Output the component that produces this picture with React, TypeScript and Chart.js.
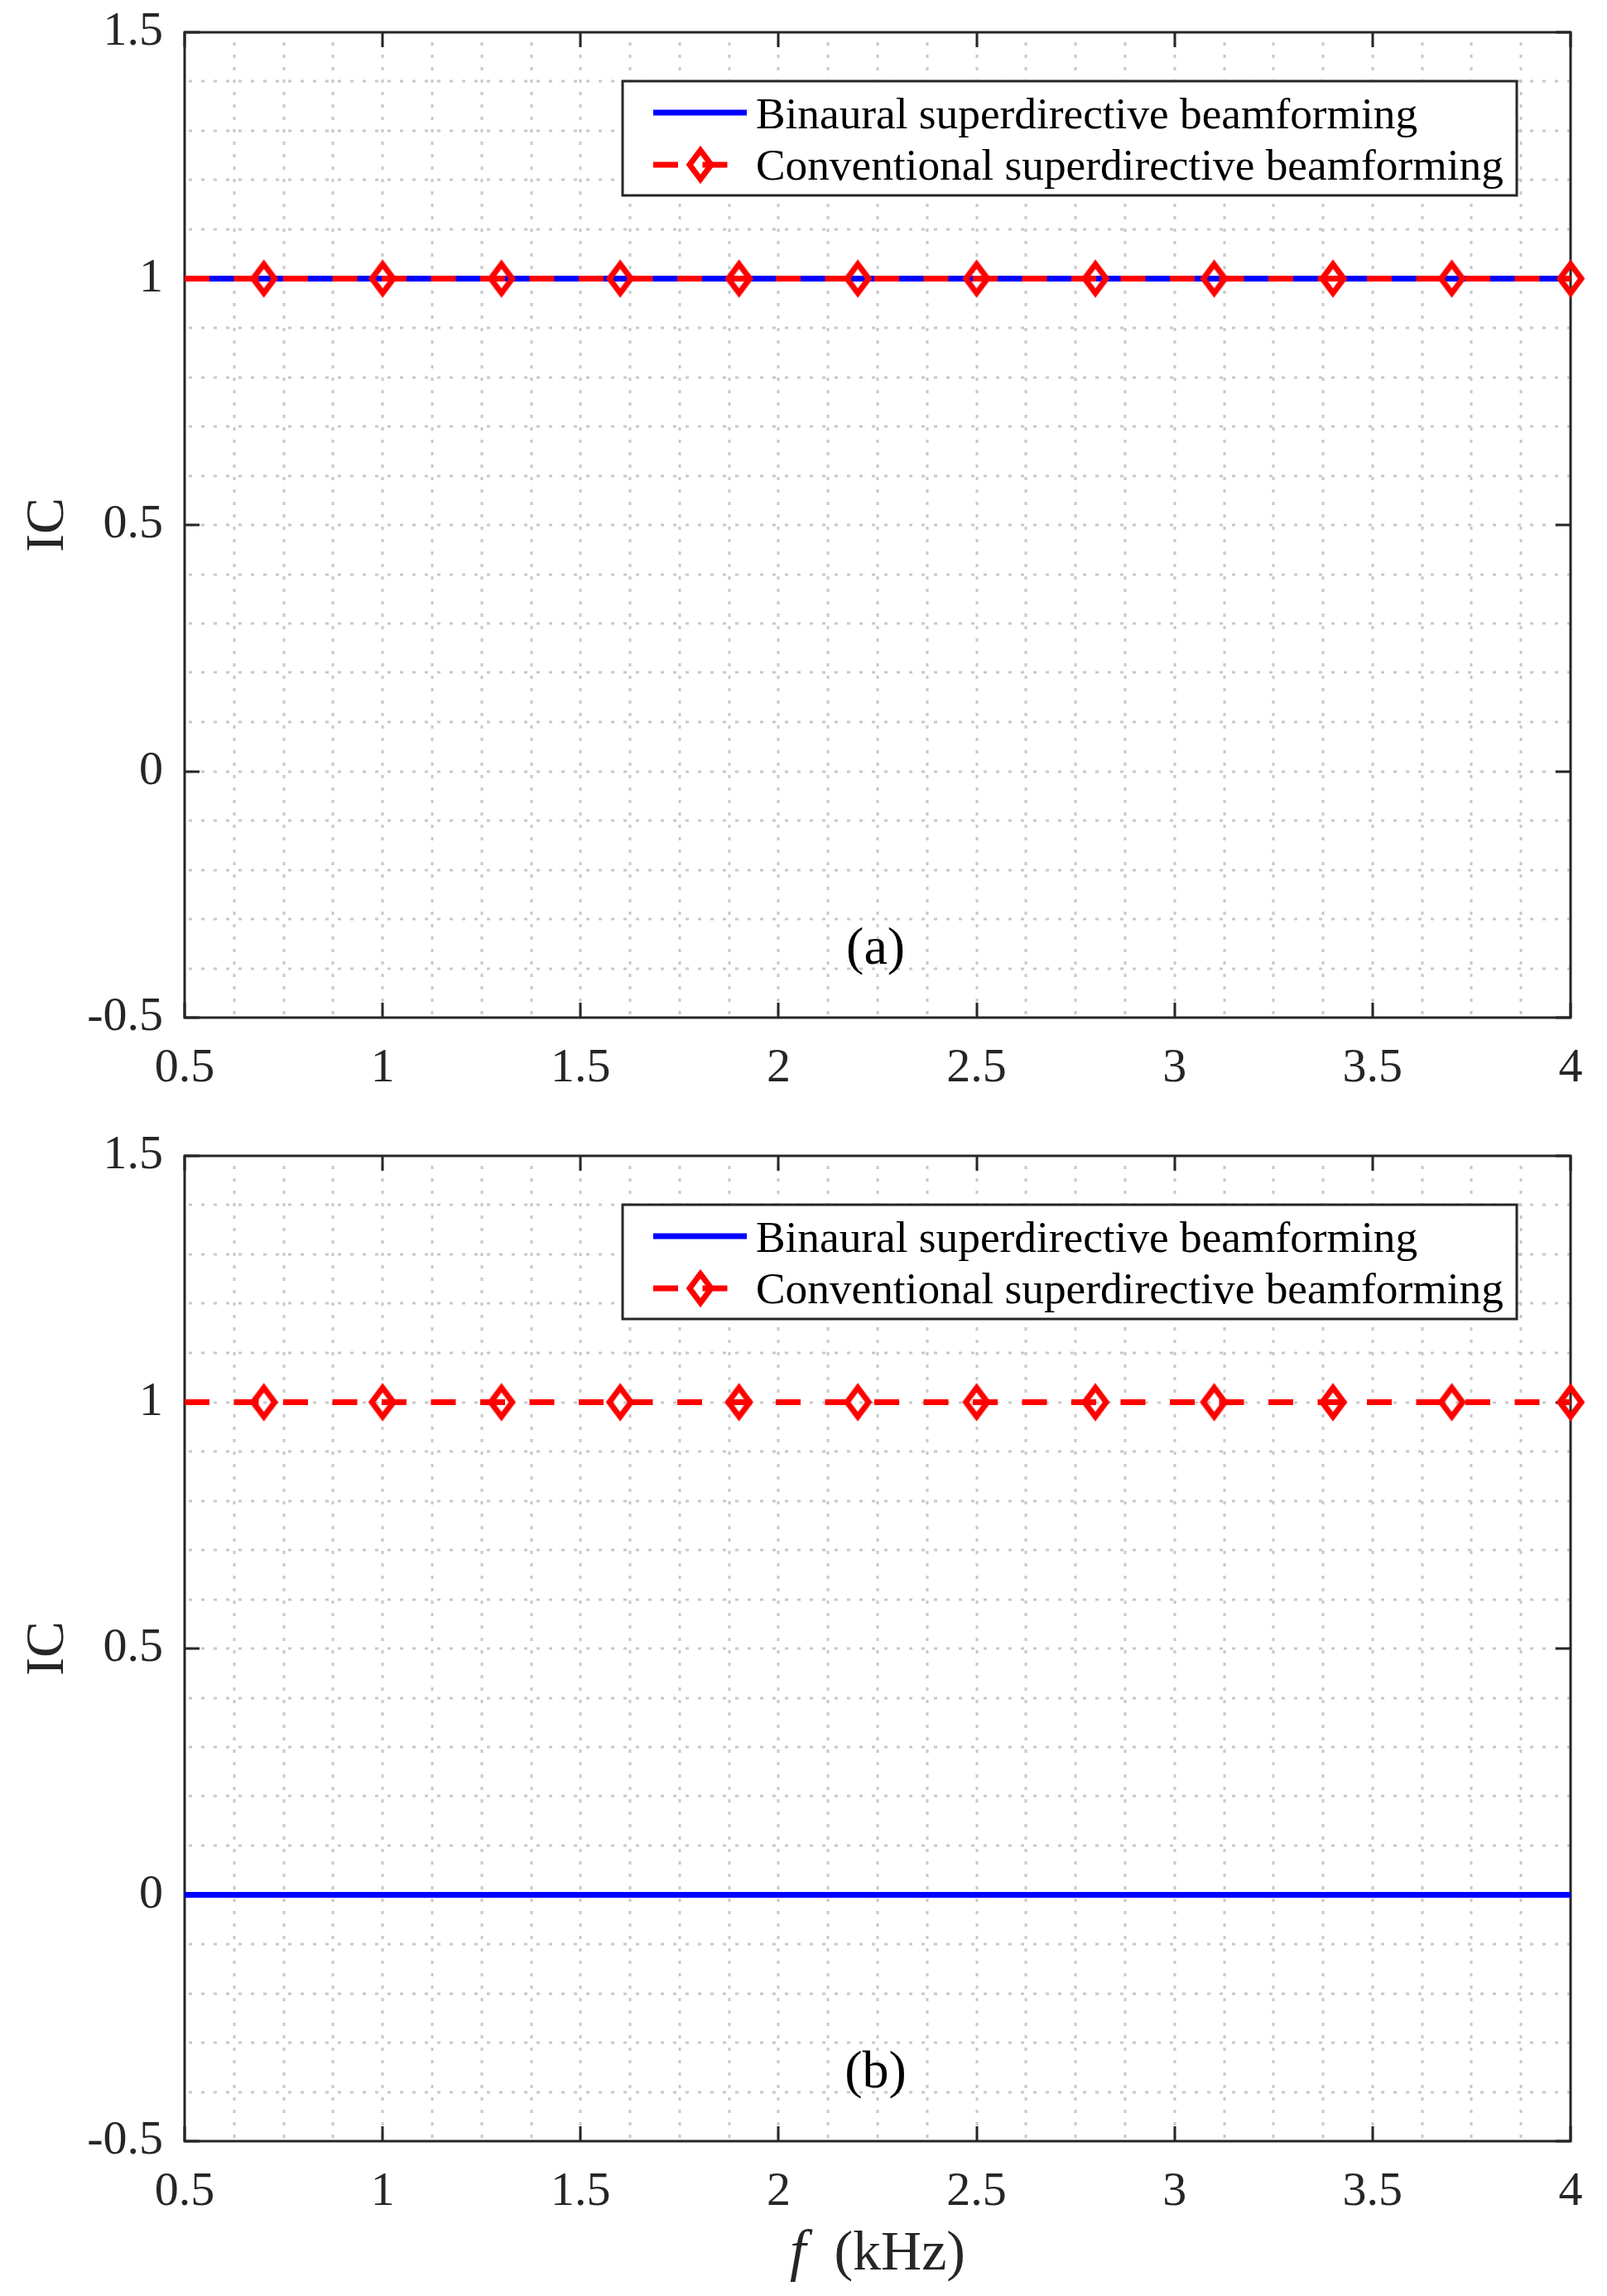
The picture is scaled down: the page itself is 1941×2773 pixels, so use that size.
import React, { useEffect, useRef } from "react";
import { Chart, registerables } from "chart.js";

Chart.register(...registerables);

// ---------------- data ----------------
const freqKHz = [0.5, 0.7, 1.0, 1.3, 1.6, 1.9, 2.2, 2.5, 2.8, 3.1, 3.4, 3.7, 4.0];
const markerFreqs = [0.7, 1.0, 1.3, 1.6, 1.9, 2.2, 2.5, 2.8, 3.1, 3.4, 3.7, 4.0];
const binauralA = [1, 1, 1, 1, 1, 1, 1, 1, 1, 1, 1, 1, 1];
const conventionalA = [1, 1, 1, 1, 1, 1, 1, 1, 1, 1, 1, 1, 1];
const binauralB = [0, 0, 0, 0, 0, 0, 0, 0, 0, 0, 0, 0, 0];
const conventionalB = [1, 1, 1, 1, 1, 1, 1, 1, 1, 1, 1, 1, 1];
const xTickLabels = ["0.5", "1", "1.5", "2", "2.5", "3", "3.5", "4"];
const yTickLabels = ["-0.5", "0", "0.5", "1", "1.5"];
const seriesNames = [
  "Binaural superdirective beamforming",
  "Conventional superdirective beamforming",
];
const panelLabels = ["(a)", "(b)"];
const yAxisTitle = "IC";
const xAxisTitleVar = "f";
const xAxisTitleUnit = "(kHz)";

// ---------------- styling helpers ----------------
const AXIS_COLOR = "#262626";
const GRID_COLOR = "#c8c8c8";
const SERIF = "'Liberation Serif', 'Times New Roman', serif";

let diamondCache: HTMLCanvasElement | null = null;
function diamond(): HTMLCanvasElement {
  if (diamondCache) return diamondCache;
  const c = document.createElement("canvas");
  c.width = 40;
  c.height = 54;
  const g = c.getContext("2d")!;
  g.strokeStyle = "#ff0000";
  g.lineWidth = 7;
  g.lineJoin = "miter";
  g.beginPath();
  g.moveTo(20, 27 - 17.5);
  g.lineTo(20 + 13, 27);
  g.lineTo(20, 27 + 17.5);
  g.lineTo(20 - 13, 27);
  g.closePath();
  g.stroke();
  diamondCache = c;
  return c;
}

function makeFramePlugin(panelLabel: string, showXTitle: boolean) {
  return {
    id: "matlabFrame",
    beforeDatasetsDraw(chart: any) {
      const { ctx, chartArea: ca } = chart;
      const xs = chart.scales.x;
      const ys = chart.scales.y;
      ctx.save();
      // dotted grid (major + minor)
      ctx.beginPath();
      ctx.rect(ca.left, ca.top, ca.right - ca.left, ca.bottom - ca.top);
      ctx.clip();
      ctx.strokeStyle = GRID_COLOR;
      ctx.lineWidth = 3;
      ctx.setLineDash([4, 11]);
      for (let k = 1; k < 28; k++) {
        const px = Math.round(xs.getPixelForValue(0.5 + k * 0.125));
        ctx.lineDashOffset = -12;
        ctx.beginPath();
        ctx.moveTo(px, ca.top);
        ctx.lineTo(px, ca.bottom);
        ctx.stroke();
      }
      for (let k = 1; k < 20; k++) {
        const py = Math.round(ys.getPixelForValue(-0.5 + k * 0.1));
        ctx.lineDashOffset = -5;
        ctx.beginPath();
        ctx.moveTo(ca.left, py);
        ctx.lineTo(ca.right, py);
        ctx.stroke();
      }
      ctx.restore();

      ctx.save();
      ctx.strokeStyle = AXIS_COLOR;
      ctx.lineWidth = 3;
      ctx.setLineDash([]);
      // inward ticks on all four sides
      const TL = 18;
      xs.ticks.forEach((t: any) => {
        const px = Math.round(xs.getPixelForValue(t.value));
        ctx.beginPath();
        ctx.moveTo(px, ca.bottom);
        ctx.lineTo(px, ca.bottom - TL);
        ctx.moveTo(px, ca.top);
        ctx.lineTo(px, ca.top + TL);
        ctx.stroke();
      });
      ys.ticks.forEach((t: any) => {
        const py = Math.round(ys.getPixelForValue(t.value));
        ctx.beginPath();
        ctx.moveTo(ca.left, py);
        ctx.lineTo(ca.left + TL, py);
        ctx.moveTo(ca.right, py);
        ctx.lineTo(ca.right - TL, py);
        ctx.stroke();
      });
      // box
      ctx.strokeRect(ca.left, ca.top, ca.right - ca.left, ca.bottom - ca.top);
      ctx.restore();
    },
    afterDatasetsDraw(chart: any) {
      const { ctx, chartArea: ca } = chart;
      const xs = chart.scales.x;
      const ys = chart.scales.y;
      const ds = chart.data.datasets;
      ctx.save();
      // legend box
      const w = 1080;
      const h = 138;
      const right = ca.right - 65;
      const top = ca.top + 59;
      const left = right - w;
      ctx.fillStyle = "#ffffff";
      ctx.fillRect(left, top, w, h);
      ctx.strokeStyle = AXIS_COLOR;
      ctx.lineWidth = 3;
      ctx.strokeRect(left, top, w, h);
      const rows = [top + 38, top + 101];
      const blue = ds.find((d: any) => d.label === seriesNames[0]);
      const red = ds.find((d: any) => d.label === seriesNames[1]);
      // row 1
      ctx.strokeStyle = blue.borderColor;
      ctx.lineWidth = 7;
      ctx.beginPath();
      ctx.moveTo(left + 37, rows[0]);
      ctx.lineTo(left + 150, rows[0]);
      ctx.stroke();
      // row 2
      ctx.strokeStyle = red.borderColor;
      ctx.setLineDash(red.borderDash);
      ctx.beginPath();
      ctx.moveTo(left + 37, rows[1]);
      ctx.lineTo(left + 150, rows[1]);
      ctx.stroke();
      ctx.setLineDash([]);
      const dm = diamond();
      ctx.drawImage(dm, left + 94 - dm.width / 2, rows[1] - dm.height / 2);
      ctx.fillStyle = "#000000";
      ctx.font = `53.3px ${SERIF}`;
      ctx.textAlign = "left";
      ctx.textBaseline = "alphabetic";
      ctx.fillText(blue.label, left + 161, rows[0] + 19);
      ctx.fillText(red.label, left + 161, rows[1] + 18);

      // panel label
      ctx.fillStyle = "#000000";
      ctx.font = `64px ${SERIF}`;
      ctx.textAlign = "center";
      ctx.fillText(panelLabel, xs.getPixelForValue(2.245), ys.getPixelForValue(-0.39));

      // y axis title
      ctx.fillStyle = AXIS_COLOR;
      ctx.save();
      ctx.translate(ca.left - 147, (ca.top + ca.bottom) / 2);
      ctx.rotate(-Math.PI / 2);
      ctx.font = `66px ${SERIF}`;
      ctx.textAlign = "center";
      ctx.textBaseline = "alphabetic";
      ctx.fillText(yAxisTitle, 0, 0);
      ctx.restore();

      // x axis title
      if (showXTitle) {
        const italic = `italic 70px ${SERIF}`;
        const roman = `68px ${SERIF}`;
        ctx.font = italic;
        const wf = ctx.measureText(xAxisTitleVar).width;
        ctx.font = roman;
        const wu = ctx.measureText(xAxisTitleUnit).width;
        const gap = 34;
        const total = wf + gap + wu;
        const cx = (ca.left + ca.right) / 2;
        const by = ca.bottom + 155;
        ctx.textAlign = "left";
        ctx.font = italic;
        ctx.fillText(xAxisTitleVar, cx - total / 2, by);
        ctx.font = roman;
        ctx.fillText(xAxisTitleUnit, cx - total / 2 + wf + gap, by);
      }
      ctx.restore();
    },
  };
}

type PanelProps = {
  top: number;
  height: number;
  plotTop: number;
  xAxisHeight: number;
  binaural: number[];
  conventional: number[];
  label: string;
  showXTitle: boolean;
};

function Panel(props: PanelProps) {
  const ref = useRef<HTMLCanvasElement>(null);
  useEffect(() => {
    const canvas = ref.current!;
    const tickFont = { family: SERIF, size: 58 };
    const chart = new Chart(canvas, {
      type: "line",
      data: {
        datasets: [
          {
            label: seriesNames[0],
            data: freqKHz.map((f, i) => ({ x: f, y: props.binaural[i] })),
            borderColor: "#0000ff",
            backgroundColor: "#0000ff",
            borderWidth: 7,
            pointRadius: 0,
            fill: false,
            order: 1,
          },
          {
            label: seriesNames[1],
            data: freqKHz.map((f, i) => ({ x: f, y: props.conventional[i] })),
            borderColor: "#ff0000",
            backgroundColor: "transparent",
            borderWidth: 7,
            borderDash: [30, 29.5],
            pointStyle: diamond() as any,
            pointRadius: (c: any) => (markerFreqs.includes(freqKHz[c.dataIndex]) ? 20 : 0),
            pointBorderWidth: 0,
            fill: false,
            clip: false as any,
            order: 0,
          },
        ],
      },
      options: {
        responsive: false,
        animation: false,
        events: [],
        devicePixelRatio: 1,
        layout: { padding: { top: props.plotTop, right: 44, left: 0, bottom: 0 } },
        plugins: { legend: { display: false }, tooltip: { enabled: false } },
        scales: {
          x: {
            type: "linear",
            min: 0.5,
            max: 4,
            grid: { display: false, drawTicks: false },
            border: { display: false },
            ticks: {
              stepSize: 0.5,
              autoSkip: false,
              maxRotation: 0,
              padding: 27,
              color: AXIS_COLOR,
              font: tickFont,
              callback: (_v: any, i: number) => xTickLabels[i],
            },
            afterFit: (s: any) => {
              s.height = props.xAxisHeight;
              s.paddingLeft = 0;
              s.paddingRight = 0;
            },
          },
          y: {
            type: "linear",
            min: -0.5,
            max: 1.5,
            grid: { display: false, drawTicks: false },
            border: { display: false },
            ticks: {
              stepSize: 0.5,
              autoSkip: false,
              padding: 26,
              color: AXIS_COLOR,
              font: tickFont,
              callback: (_v: any, i: number) => yTickLabels[i],
            },
            afterFit: (s: any) => {
              s.width = 223;
              s.paddingTop = 0;
              s.paddingBottom = 0;
            },
          },
        },
      } as any,
      plugins: [makeFramePlugin(props.label, props.showXTitle)],
    });
    return () => chart.destroy();
  }, []);
  return (
    <canvas
      ref={ref}
      width={1941}
      height={props.height}
      style={{ position: "absolute", left: 0, top: props.top, width: 1941, height: props.height }}
    />
  );
}

export default function App() {
  return (
    <div
      style={{
        position: "absolute",
        left: 0,
        top: 0,
        width: 1941,
        height: 2773,
        background: "#ffffff",
        overflow: "hidden",
      }}
    >
      <Panel
        top={0}
        height={1340}
        plotTop={39}
        xAxisHeight={111}
        binaural={binauralA}
        conventional={conventionalA}
        label={panelLabels[0]}
        showXTitle={false}
      />
      <Panel
        top={1340}
        height={1433}
        plotTop={56}
        xAxisHeight={187}
        binaural={binauralB}
        conventional={conventionalB}
        label={panelLabels[1]}
        showXTitle={true}
      />
    </div>
  );
}
